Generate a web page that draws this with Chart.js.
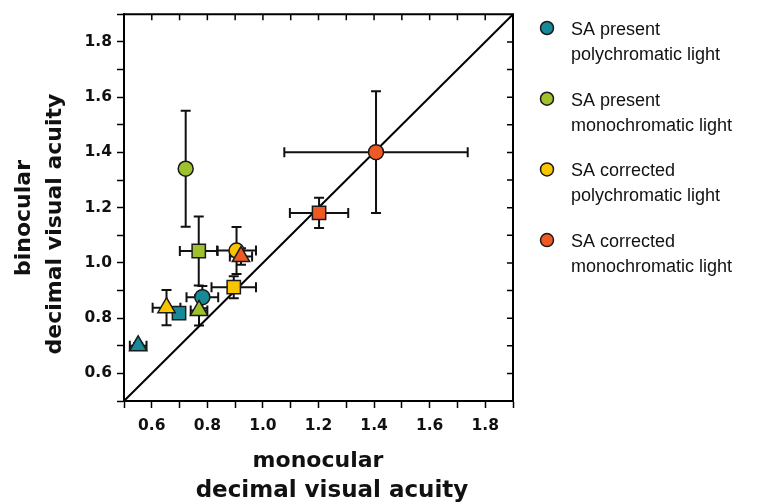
<!DOCTYPE html>
<html>
<head>
<meta charset="utf-8">
<script src="https://cdn.jsdelivr.net/npm/chart.js@4/dist/chart.umd.min.js"></script>
<style>
  html, body { margin: 0; padding: 0; background: #ffffff; }
  #wrap { position: relative; width: 774px; height: 504px; }
</style>
</head>
<body>
<div id="wrap"><canvas id="c"></canvas></div>
<script>
// ---- data ----
const seriesLabels = [
  ['SA present', 'polychromatic light'],
  ['SA present', 'monochromatic light'],
  ['SA corrected', 'polychromatic light'],
  ['SA corrected', 'monochromatic light']
];
const seriesColors = ['#178a99', '#9ec12c', '#f8c500', '#ef5a24'];
const markerShapes = ['circle', 'rect', 'triangle'];

const tealX = [0.782, 0.698, 0.551];
const tealY = [0.876, 0.818, 0.700];
const tealXErr = [0.057, 0.02, 0.03];
const tealYErr = [0.04, 0.015, 0.01];

const greenX = [0.722, 0.769, 0.770];
const greenY = [1.341, 1.043, 0.828];
const greenXErr = [0.015, 0.068, 0.03];
const greenYErr = [0.21, 0.125, 0.055];

const yellowX = [0.905, 0.895, 0.653];
const yellowY = [1.045, 0.912, 0.838];
const yellowXErr = [0.07, 0.08, 0.05];
const yellowYErr = [0.085, 0.04, 0.064];

const orangeX = [1.407, 1.202, 0.921];
const orangeY = [1.401, 1.181, 1.023];
const orangeXErr = [0.33, 0.105, 0.04];
const orangeYErr = [0.22, 0.055, 0.03];

const diagX = [0.5, 1.9];
const diagY = [0.5, 1.9];

const axisMin = 0.5, axisMax = 1.9, tickStep = 0.1;
const xTitle = ['monocular', 'decimal visual acuity'];
const yTitle = ['binocular', 'decimal visual acuity'];

// ---- build datasets ----
function makePoints(xs, ys, xe, ye) {
  return xs.map((x, i) => ({ x: x, y: ys[i], xErr: xe[i], yErr: ye[i] }));
}
const seriesPoints = [
  makePoints(tealX, tealY, tealXErr, tealYErr),
  makePoints(greenX, greenY, greenXErr, greenYErr),
  makePoints(yellowX, yellowY, yellowXErr, yellowYErr),
  makePoints(orangeX, orangeY, orangeXErr, orangeYErr)
];
const radii = { circle: 7.5, rect: 9.4, triangle: 10 };

const datasets = seriesPoints.map((pts, s) => ({
  type: 'scatter',
  label: seriesLabels[s].join(' '),
  data: pts,
  backgroundColor: seriesColors[s],
  borderColor: '#1a1a1a',
  borderWidth: 1.5,
  pointStyle: markerShapes,
  pointRadius: markerShapes.map(m => radii[m]),
  pointHoverRadius: markerShapes.map(m => radii[m]),
  order: 4 - s,
  isSeries: true
}));
datasets.push({
  type: 'line',
  label: 'identity',
  data: diagX.map((x, i) => ({ x: x, y: diagY[i] })),
  borderColor: '#000',
  borderWidth: 2,
  pointRadius: 0,
  showLine: true,
  fill: false,
  order: 10
});

// ---- plugins ----
const errorBars = {
  id: 'errorBars',
  beforeDatasetsDraw(chart) {
    const ctx = chart.ctx, xs = chart.scales.x, ys = chart.scales.y;
    const cap = 5;
    ctx.save();
    ctx.strokeStyle = '#111';
    ctx.lineWidth = 2;
    chart.data.datasets.forEach(ds => {
      if (!ds.isSeries) return;
      ds.data.forEach(p => {
        const px = xs.getPixelForValue(p.x), py = ys.getPixelForValue(p.y);
        if (p.xErr) {
          const l = xs.getPixelForValue(p.x - p.xErr), r = xs.getPixelForValue(p.x + p.xErr);
          ctx.beginPath();
          ctx.moveTo(l, py); ctx.lineTo(r, py);
          ctx.moveTo(l, py - cap); ctx.lineTo(l, py + cap);
          ctx.moveTo(r, py - cap); ctx.lineTo(r, py + cap);
          ctx.stroke();
        }
        if (p.yErr) {
          const t = ys.getPixelForValue(p.y + p.yErr), b = ys.getPixelForValue(p.y - p.yErr);
          ctx.beginPath();
          ctx.moveTo(px, t); ctx.lineTo(px, b);
          ctx.moveTo(px - cap, t); ctx.lineTo(px + cap, t);
          ctx.moveTo(px - cap, b); ctx.lineTo(px + cap, b);
          ctx.stroke();
        }
      });
    });
    ctx.restore();
  }
};

const frameAndDecor = {
  id: 'frameAndDecor',
  afterDraw(chart) {
    const ctx = chart.ctx, a = chart.chartArea, xs = chart.scales.x, ys = chart.scales.y;
    ctx.save();
    // frame top & right
    ctx.strokeStyle = '#000';
    ctx.lineWidth = 2;
    ctx.beginPath();
    ctx.moveTo(a.left, a.top); ctx.lineTo(a.right, a.top); ctx.lineTo(a.right, a.bottom);
    ctx.stroke();
    // inward ticks on top and right
    ctx.lineWidth = 1.5;
    ctx.beginPath();
    xs.ticks.forEach(t => {
      const px = xs.getPixelForValue(t.value);
      if (px <= a.left + 1 || px >= a.right - 1) return;
      ctx.moveTo(px, a.top); ctx.lineTo(px, a.top + 6);
    });
    ys.ticks.forEach(t => {
      const py = ys.getPixelForValue(t.value);
      if (py <= a.top + 1 || py >= a.bottom - 1) return;
      ctx.moveTo(a.right, py); ctx.lineTo(a.right - 6, py);
    });
    ctx.stroke();

    // axis titles
    ctx.fillStyle = '#111';
    ctx.font = 'bold 22px "DejaVu Sans"';
    ctx.textAlign = 'center';
    ctx.textBaseline = 'middle';
    ctx.fillText(xTitle[0], 318, 461);
    ctx.font = 'bold 23px "DejaVu Sans"';
    ctx.fillText(xTitle[1], 332, 491);
    ctx.font = 'bold 22px "DejaVu Sans"';
    ctx.save();
    ctx.translate(24, 218);
    ctx.rotate(-Math.PI / 2);
    ctx.fillText(yTitle[0], 0, 0);
    ctx.restore();
    ctx.save();
    ctx.translate(55, 224);
    ctx.rotate(-Math.PI / 2);
    ctx.fillText(yTitle[1], 0, 0);
    ctx.restore();

    // legend
    const ly0 = 28, lstep = 70.7, lx = 547;
    ctx.font = '18px "Liberation Sans"';
    ctx.textAlign = 'left';
    ctx.textBaseline = 'middle';
    seriesLabels.forEach((lines, i) => {
      const y = ly0 + i * lstep;
      ctx.beginPath();
      ctx.arc(lx, y, 6.5, 0, Math.PI * 2);
      ctx.fillStyle = seriesColors[i];
      ctx.fill();
      ctx.lineWidth = 1.5;
      ctx.strokeStyle = '#1a1a1a';
      ctx.stroke();
      ctx.fillStyle = '#111';
      ctx.fillText(lines[0], 571, y + 2);
      ctx.fillText(lines[1], 571, y + 27);
    });
    ctx.restore();
  }
};

function tickLabel(v) {
  const k = Math.round(v * 10);
  return k % 2 === 0 ? (k / 10).toFixed(1) : '';
}

const axisCommon = {
  type: 'linear',
  min: axisMin,
  max: axisMax,
  ticks: {
    stepSize: tickStep,
    autoSkip: false,
    color: '#111',
    font: { family: 'DejaVu Sans', weight: 'bold', size: 15.5 },
    callback: tickLabel
  },
  grid: {
    drawOnChartArea: false,
    drawTicks: true,
    tickLength: 7,
    tickWidth: 1.5,
    tickColor: '#000'
  },
  border: { display: true, color: '#000', width: 2 }
};

new Chart(document.getElementById('c'), {
  type: 'scatter',
  data: { datasets: datasets },
  options: {
    responsive: true,
    maintainAspectRatio: false,
    animation: false,
    layout: { padding: { left: 0, top: 10, right: 261, bottom: 0 } },
    plugins: { legend: { display: false }, tooltip: { enabled: false } },
    scales: {
      x: Object.assign({}, axisCommon, {
        position: 'bottom',
        ticks: Object.assign({}, axisCommon.ticks, { padding: 9, maxRotation: 0 }),
        afterFit(scale) { scale.height = 103; }
      }),
      y: Object.assign({}, axisCommon, {
        position: 'left',
        ticks: Object.assign({}, axisCommon.ticks, { padding: 5 }),
        afterFit(scale) { scale.width = 124; }
      })
    }
  },
  plugins: [errorBars, frameAndDecor]
});
</script>
</body>
</html>
